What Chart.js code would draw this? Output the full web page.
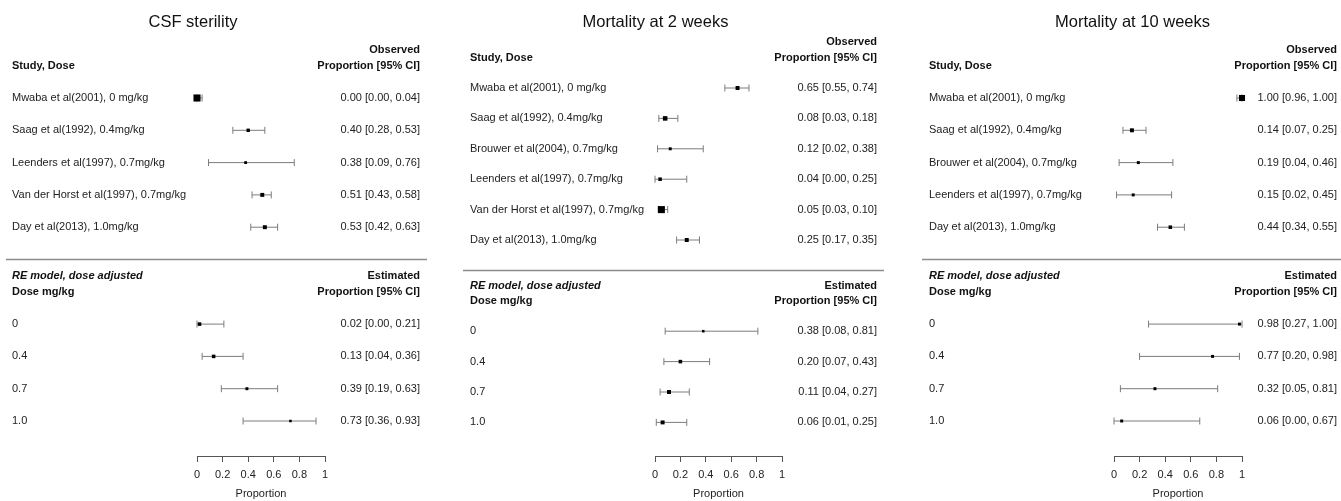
<!DOCTYPE html>
<html>
<head>
<meta charset="utf-8">
<title>Forest plots</title>
<script src="https://cdn.jsdelivr.net/npm/chart.js@4/dist/chart.umd.min.js"></script>
<style>
  html, body { margin: 0; padding: 0; background: #fff; }
  .panels { display: flex; width: 1341px; height: 501px; }
  canvas { display: block; }
</style>
</head>
<body>
<div class="panels">
  <canvas id="csf" width="447" height="501"></canvas>
  <canvas id="mort2" width="447" height="501"></canvas>
  <canvas id="mort10" width="447" height="501"></canvas>
</div>
<script>
// ---- data ----
var DOSES = ['0', '0.4', '0.7', '1.0'];

var CSF_STUDIES = ['Mwaba et al(2001), 0 mg/kg', 'Saag et al(1992), 0.4mg/kg', 'Leenders et al(1997), 0.7mg/kg',
                   'Van der Horst et al(1997), 0.7mg/kg', 'Day et al(2013), 1.0mg/kg'];
var CSF_OBS    = [0.00, 0.40, 0.38, 0.51, 0.53];
var CSF_OBS_LO = [0.00, 0.28, 0.09, 0.43, 0.42];
var CSF_OBS_HI = [0.04, 0.53, 0.76, 0.58, 0.63];
var CSF_EST    = [0.02, 0.13, 0.39, 0.73];
var CSF_EST_LO = [0.00, 0.04, 0.19, 0.36];
var CSF_EST_HI = [0.21, 0.36, 0.63, 0.93];

var M2_STUDIES = ['Mwaba et al(2001), 0 mg/kg', 'Saag et al(1992), 0.4mg/kg', 'Brouwer et al(2004), 0.7mg/kg',
                  'Leenders et al(1997), 0.7mg/kg', 'Van der Horst et al(1997), 0.7mg/kg', 'Day et al(2013), 1.0mg/kg'];
var M2_OBS    = [0.65, 0.08, 0.12, 0.04, 0.05, 0.25];
var M2_OBS_LO = [0.55, 0.03, 0.02, 0.00, 0.03, 0.17];
var M2_OBS_HI = [0.74, 0.18, 0.38, 0.25, 0.10, 0.35];
var M2_EST    = [0.38, 0.20, 0.11, 0.06];
var M2_EST_LO = [0.08, 0.07, 0.04, 0.01];
var M2_EST_HI = [0.81, 0.43, 0.27, 0.25];

var M10_STUDIES = ['Mwaba et al(2001), 0 mg/kg', 'Saag et al(1992), 0.4mg/kg', 'Brouwer et al(2004), 0.7mg/kg',
                   'Leenders et al(1997), 0.7mg/kg', 'Day et al(2013), 1.0mg/kg'];
var M10_OBS    = [1.00, 0.14, 0.19, 0.15, 0.44];
var M10_OBS_LO = [0.96, 0.07, 0.04, 0.02, 0.34];
var M10_OBS_HI = [1.00, 0.25, 0.46, 0.45, 0.55];
var M10_EST    = [0.98, 0.77, 0.32, 0.06];
var M10_EST_LO = [0.27, 0.20, 0.05, 0.00];
var M10_EST_HI = [1.00, 0.98, 0.81, 0.67];

var X_TICKS = [0, 0.2, 0.4, 0.6, 0.8, 1];

// ---- styles / layout (pixels) ----
var FONT = '"Liberation Sans", Arial, Helvetica, sans-serif';
var CI_COLOR = '#7c7c7c';
var TEXT_COLOR = '#222';

// marker half-sizes per row (square weights)
var CSF_OBS_SIZE = [5, 2.4, 2, 2.8, 2.8];
var CSF_EST_SIZE = [2.5, 2.5, 2.1, 1.8];
var M2_OBS_SIZE  = [2.8, 3.2, 2.1, 2.5, 5, 2.8];
var M2_EST_SIZE  = [1.8, 2.5, 2.8, 2.8];
var M10_OBS_SIZE = [4.3, 2.8, 2.1, 2.1, 2.5];
var M10_EST_SIZE = [2.1, 2.1, 2.1, 2.1];

function fmt(v, lo, hi) {
  return v.toFixed(2) + ' [' + lo.toFixed(2) + ', ' + hi.toFixed(2) + ']';
}

function ciDataset(lo, hi, row) {
  return {
    type: 'scatter',
    showLine: true,
    data: [{ x: lo, y: row }, { x: hi, y: row }],
    borderColor: CI_COLOR,
    borderWidth: 1,
    pointStyle: 'line',
    pointRotation: 90,
    pointRadius: 3.5,
    pointHoverRadius: 3.5,
    pointBorderColor: CI_COLOR,
    pointBorderWidth: 1,
    clip: false
  };
}

// text columns, headers and the divider drawn against the row scale
function forestText(p) {
  return {
    id: 'forestText',
    afterDraw: function(chart) {
      var ctx = chart.ctx, ys = chart.scales.y;
      var n = p.studies.length;
      var rowY = function(r) { return ys.getPixelForValue(r); };
      ctx.save();
      ctx.textBaseline = 'middle';

      ctx.fillStyle = '#111';
      ctx.font = '16.5px ' + FONT;
      ctx.textAlign = 'center';
      ctx.fillText(p.title, p.titleX, 22);

      ctx.font = 'bold 11px ' + FONT;
      ctx.textAlign = 'left';
      ctx.fillText('Study, Dose', p.left, rowY(-1));
      ctx.fillText('Dose mg/kg', p.left, rowY(n + 1));
      ctx.textAlign = 'right';
      ctx.fillText('Observed', p.right, rowY(-1.5));
      ctx.fillText('Proportion [95% CI]', p.right, rowY(-1));
      ctx.fillText('Estimated', p.right, rowY(n + 0.5));
      ctx.fillText('Proportion [95% CI]', p.right, rowY(n + 1));
      ctx.font = 'italic bold 11px ' + FONT;
      ctx.textAlign = 'left';
      ctx.fillText('RE model, dose adjusted', p.left, rowY(n + 0.5));

      ctx.fillStyle = TEXT_COLOR;
      ctx.font = '11px ' + FONT;
      p.studies.forEach(function(s, i) {
        ctx.textAlign = 'left';
        ctx.fillText(s, p.left, rowY(i));
        ctx.textAlign = 'right';
        ctx.fillText(fmt(p.obs[i], p.obsLo[i], p.obsHi[i]), p.right, rowY(i));
      });
      DOSES.forEach(function(d, i) {
        var r = n + 2 + i;
        ctx.textAlign = 'left';
        ctx.fillText(d, p.left, rowY(r));
        ctx.textAlign = 'right';
        ctx.fillText(fmt(p.est[i], p.estLo[i], p.estHi[i]), p.right, rowY(r));
      });

      ctx.strokeStyle = '#8c8c8c';
      ctx.lineWidth = 1.5;
      ctx.beginPath();
      ctx.moveTo(p.sepLeft, rowY(n));
      ctx.lineTo(p.sepRight, rowY(n));
      ctx.stroke();
      ctx.restore();
    }
  };
}

function drawPanel(id, p) {
  var n = p.studies.length;
  var obsRows = p.obs.map(function(v, i) { return { x: v, y: i }; });
  var estRows = p.est.map(function(v, i) { return { x: v, y: n + 2 + i }; });

  var datasets = [{
    type: 'scatter',
    data: obsRows.concat(estRows),
    pointStyle: 'rect',
    pointRadius: p.obsSize.concat(p.estSize),
    pointHoverRadius: p.obsSize.concat(p.estSize),
    backgroundColor: '#000',
    borderWidth: 0,
    pointBorderWidth: 0,
    clip: false
  }];
  p.obs.forEach(function(v, i) { datasets.push(ciDataset(p.obsLo[i], p.obsHi[i], i)); });
  p.est.forEach(function(v, i) { datasets.push(ciDataset(p.estLo[i], p.estHi[i], n + 2 + i)); });

  var chart = new Chart(document.getElementById(id), {
    type: 'scatter',
    data: { datasets: datasets },
    plugins: [forestText(p)],
    options: {
      responsive: false,
      animation: false,
      events: [],
      layout: { padding: { left: p.axisLeft, right: p.axisRight, top: 0, bottom: 0 } },
      plugins: { legend: { display: false }, tooltip: { enabled: false } },
      scales: {
        x: {
          type: 'linear',
          min: X_TICKS[0],
          max: X_TICKS[X_TICKS.length - 1],
          afterBuildTicks: function(scale) {
            scale.ticks = X_TICKS.map(function(v) { return { value: v }; });
          },
          ticks: {
            autoSkip: false,
            maxRotation: 0,
            padding: 6,
            color: TEXT_COLOR,
            font: { family: FONT, size: 11 },
            callback: function(v) { return String(v); }
          },
          grid: { drawOnChartArea: false, drawTicks: true, tickLength: 6, color: '#555', lineWidth: 1 },
          border: { display: true, color: '#555', width: 1 },
          title: {
            display: true,
            text: 'Proportion',
            color: TEXT_COLOR,
            font: { family: FONT, size: 11 },
            padding: { top: 0.6, bottom: 0 }
          }
        },
        y: {
          type: 'linear',
          reverse: true,
          display: false,
          bounds: 'data',
          min: -3,
          max: 11
        }
      }
    }
  });

  // rows sit at a fixed pitch below the first study row; fit the hidden row scale to the plot area
  var a = chart.chartArea;
  chart.options.scales.y.min = (a.top - p.rowTop) / p.pitch;
  chart.options.scales.y.max = (a.bottom - p.rowTop) / p.pitch;
  chart.update();
}

drawPanel('csf', {
  title: 'CSF sterility', titleX: 193,
  studies: CSF_STUDIES,
  obs: CSF_OBS, obsLo: CSF_OBS_LO, obsHi: CSF_OBS_HI, obsSize: CSF_OBS_SIZE,
  est: CSF_EST, estLo: CSF_EST_LO, estHi: CSF_EST_HI, estSize: CSF_EST_SIZE,
  left: 12, right: 420, sepLeft: 6, sepRight: 427,
  axisLeft: 197, axisRight: 122, rowTop: 98, pitch: 32.3
});

drawPanel('mort2', {
  title: 'Mortality at 2 weeks', titleX: 208.5,
  studies: M2_STUDIES,
  obs: M2_OBS, obsLo: M2_OBS_LO, obsHi: M2_OBS_HI, obsSize: M2_OBS_SIZE,
  est: M2_EST, estLo: M2_EST_LO, estHi: M2_EST_HI, estSize: M2_EST_SIZE,
  left: 23, right: 430, sepLeft: 16, sepRight: 437,
  axisLeft: 208, axisRight: 112, rowTop: 88, pitch: 30.4
});

drawPanel('mort10', {
  title: 'Mortality at 10 weeks', titleX: 238.5,
  studies: M10_STUDIES,
  obs: M10_OBS, obsLo: M10_OBS_LO, obsHi: M10_OBS_HI, obsSize: M10_OBS_SIZE,
  est: M10_EST, estLo: M10_EST_LO, estHi: M10_EST_HI, estSize: M10_EST_SIZE,
  left: 35, right: 443, sepLeft: 28, sepRight: 450,
  axisLeft: 220, axisRight: 99, rowTop: 98, pitch: 32.3
});
</script>
</body>
</html>
